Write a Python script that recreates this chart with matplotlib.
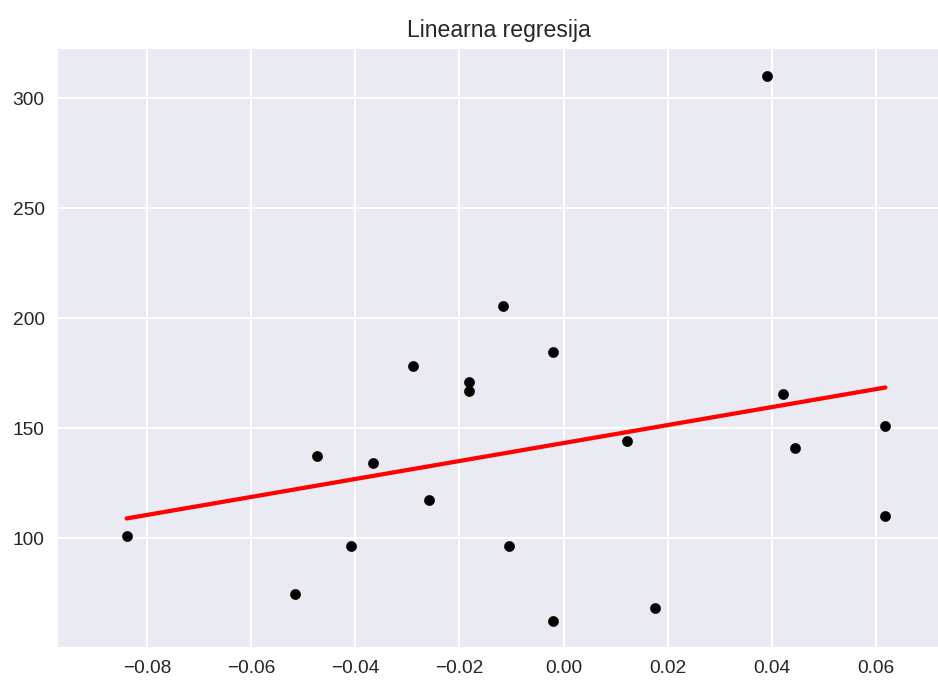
import matplotlib
matplotlib.use("Agg")
import matplotlib.pyplot as plt
import numpy as np

# test set (one feature) and target values
x_test = [-0.0840, -0.0517, -0.0474, -0.0409, -0.0366, -0.0290, -0.0258,
          -0.0182, -0.0182, -0.0116, -0.0105, -0.0020, -0.0020, 0.0122,
          0.0176, 0.0391, 0.0422, 0.0446, 0.0619, 0.0619]
y_test = [101.0, 74.6, 137.4, 96.4, 134.4, 178.2, 117.3,
          171.0, 167.0, 205.6, 96.4, 184.7, 62.4, 144.1,
          68.3, 310.1, 165.6, 140.9, 150.9, 110.1]

# fitted model
coef = 408.0
intercept = 143.3

plt.style.use("seaborn-v0_8")

dpi = 138
fig = plt.figure(figsize=(939 / dpi, 684 / dpi), dpi=dpi)
ax = fig.add_axes([58 / 939, 1 - 647 / 684, 1 - 58 / 939, (647 - 49) / 684])

x = np.array(x_test)
y_pred = intercept + coef * x

ax.scatter(x_test, y_test, color="black", s=28, zorder=3)
ax.plot(x, y_pred, color="red", linewidth=2.2, zorder=2)

ax.set_xlim(-0.0972, 0.0722)
ax.set_ylim(50.6, 322.4)
ax.set_xticks([-0.08, -0.06, -0.04, -0.02, 0.00, 0.02, 0.04, 0.06])
ax.set_yticks([100, 150, 200, 250, 300])
ax.set_title("Linearna regresija")

fig.savefig("out.png", dpi=dpi)
